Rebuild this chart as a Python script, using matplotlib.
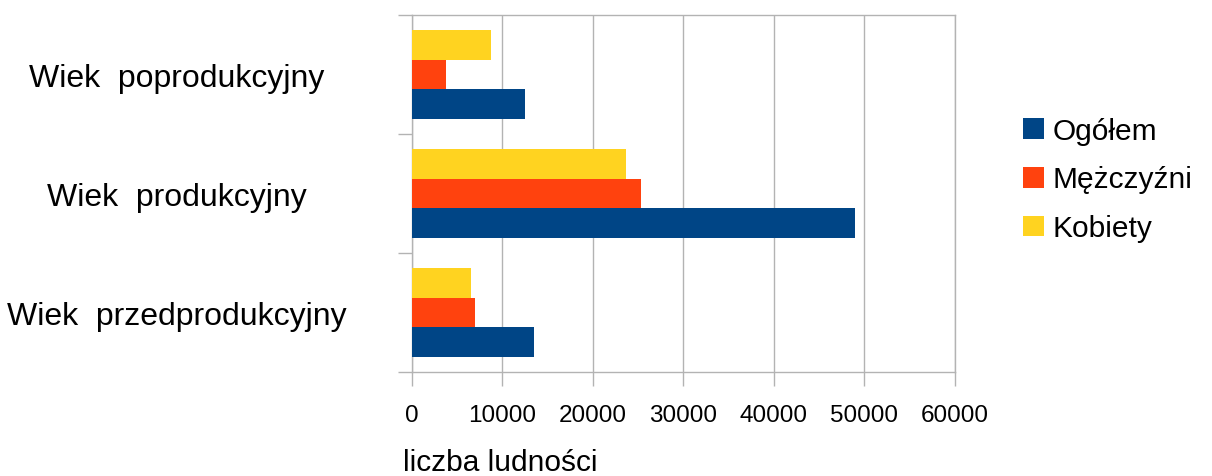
import matplotlib
matplotlib.use("Agg")
import matplotlib.pyplot as plt
import numpy as np
from matplotlib.patches import Patch

#---------- DATA ---------------------------------------------------------------
categories = ['Wiek  przedprodukcyjny', 'Wiek  produkcyjny', 'Wiek  poprodukcyjny']
ogolem = [13500, 48950, 12500]
mezczyzni = [6990, 25300, 3790]
kobiety = [6510, 23650, 8720]
series_names = ['Ogółem', 'Mężczyźni', 'Kobiety']
xticks = [0, 10000, 20000, 30000, 40000, 50000, 60000]
xlabel = 'liczba ludności'

#---------- STYLE --------------------------------------------------------------
plt.rcParams['font.family'] = ['Liberation Sans', 'DejaVu Sans']
colors = ['#004586', '#ff420e', '#ffd320']
gray = '#b3b3b3'
W, H, dpi = 1212, 477, 100

fig = plt.figure(figsize=(W / dpi, H / dpi), dpi=dpi)
ax = fig.add_axes([411.7 / W, 1 - 373 / H, (955 - 411.7) / W, (373 - 16) / H])

y = np.arange(len(categories))
bh = 0.252
for vals, off, col, name in zip([ogolem, mezczyzni, kobiety], [-bh, 0, bh], colors, series_names):
    ax.barh(y + off, vals, height=bh, color=col, label=name, zorder=3)

ax.set_xlim(0, 60000)
ax.set_ylim(-0.5, len(categories) - 0.5)

ax.set_xticks(xticks)
ax.set_xticklabels([str(t) for t in xticks])
ax.xaxis.grid(True, color=gray, linewidth=1.0, zorder=0)
ax.tick_params(axis='x', direction='out', length=10, width=1.0, color=gray,
               labelsize=17.5, pad=13)

# category boundaries get tick marks, labels sit at centres
ax.set_yticks(y)
ax.set_yticklabels(categories)
ax.set_yticks(np.arange(-0.5, len(categories)), minor=True)
ax.tick_params(axis='y', which='major', length=0, labelsize=23, pad=169)
ax.tick_params(axis='y', which='minor', direction='out', length=10, width=1.0, color=gray)
for lab in ax.get_yticklabels():
    lab.set_horizontalalignment('center')

for s in ax.spines.values():
    s.set_color(gray)
    s.set_linewidth(1.0)

fig.text(403 / W, 6 / H, xlabel, fontsize=21.5, ha='left', va='baseline')

handles = [Patch(facecolor=c, edgecolor='none') for c in colors]
fig.legend(handles, series_names, loc='center left',
           bbox_to_anchor=(1023 / W, 1 - 180.5 / H), frameon=False,
           fontsize=21.5, handlelength=0.7, handleheight=0.7,
           handletextpad=0.3, labelspacing=0.7, borderpad=0, borderaxespad=0)

fig.savefig('out.png', dpi=dpi)
